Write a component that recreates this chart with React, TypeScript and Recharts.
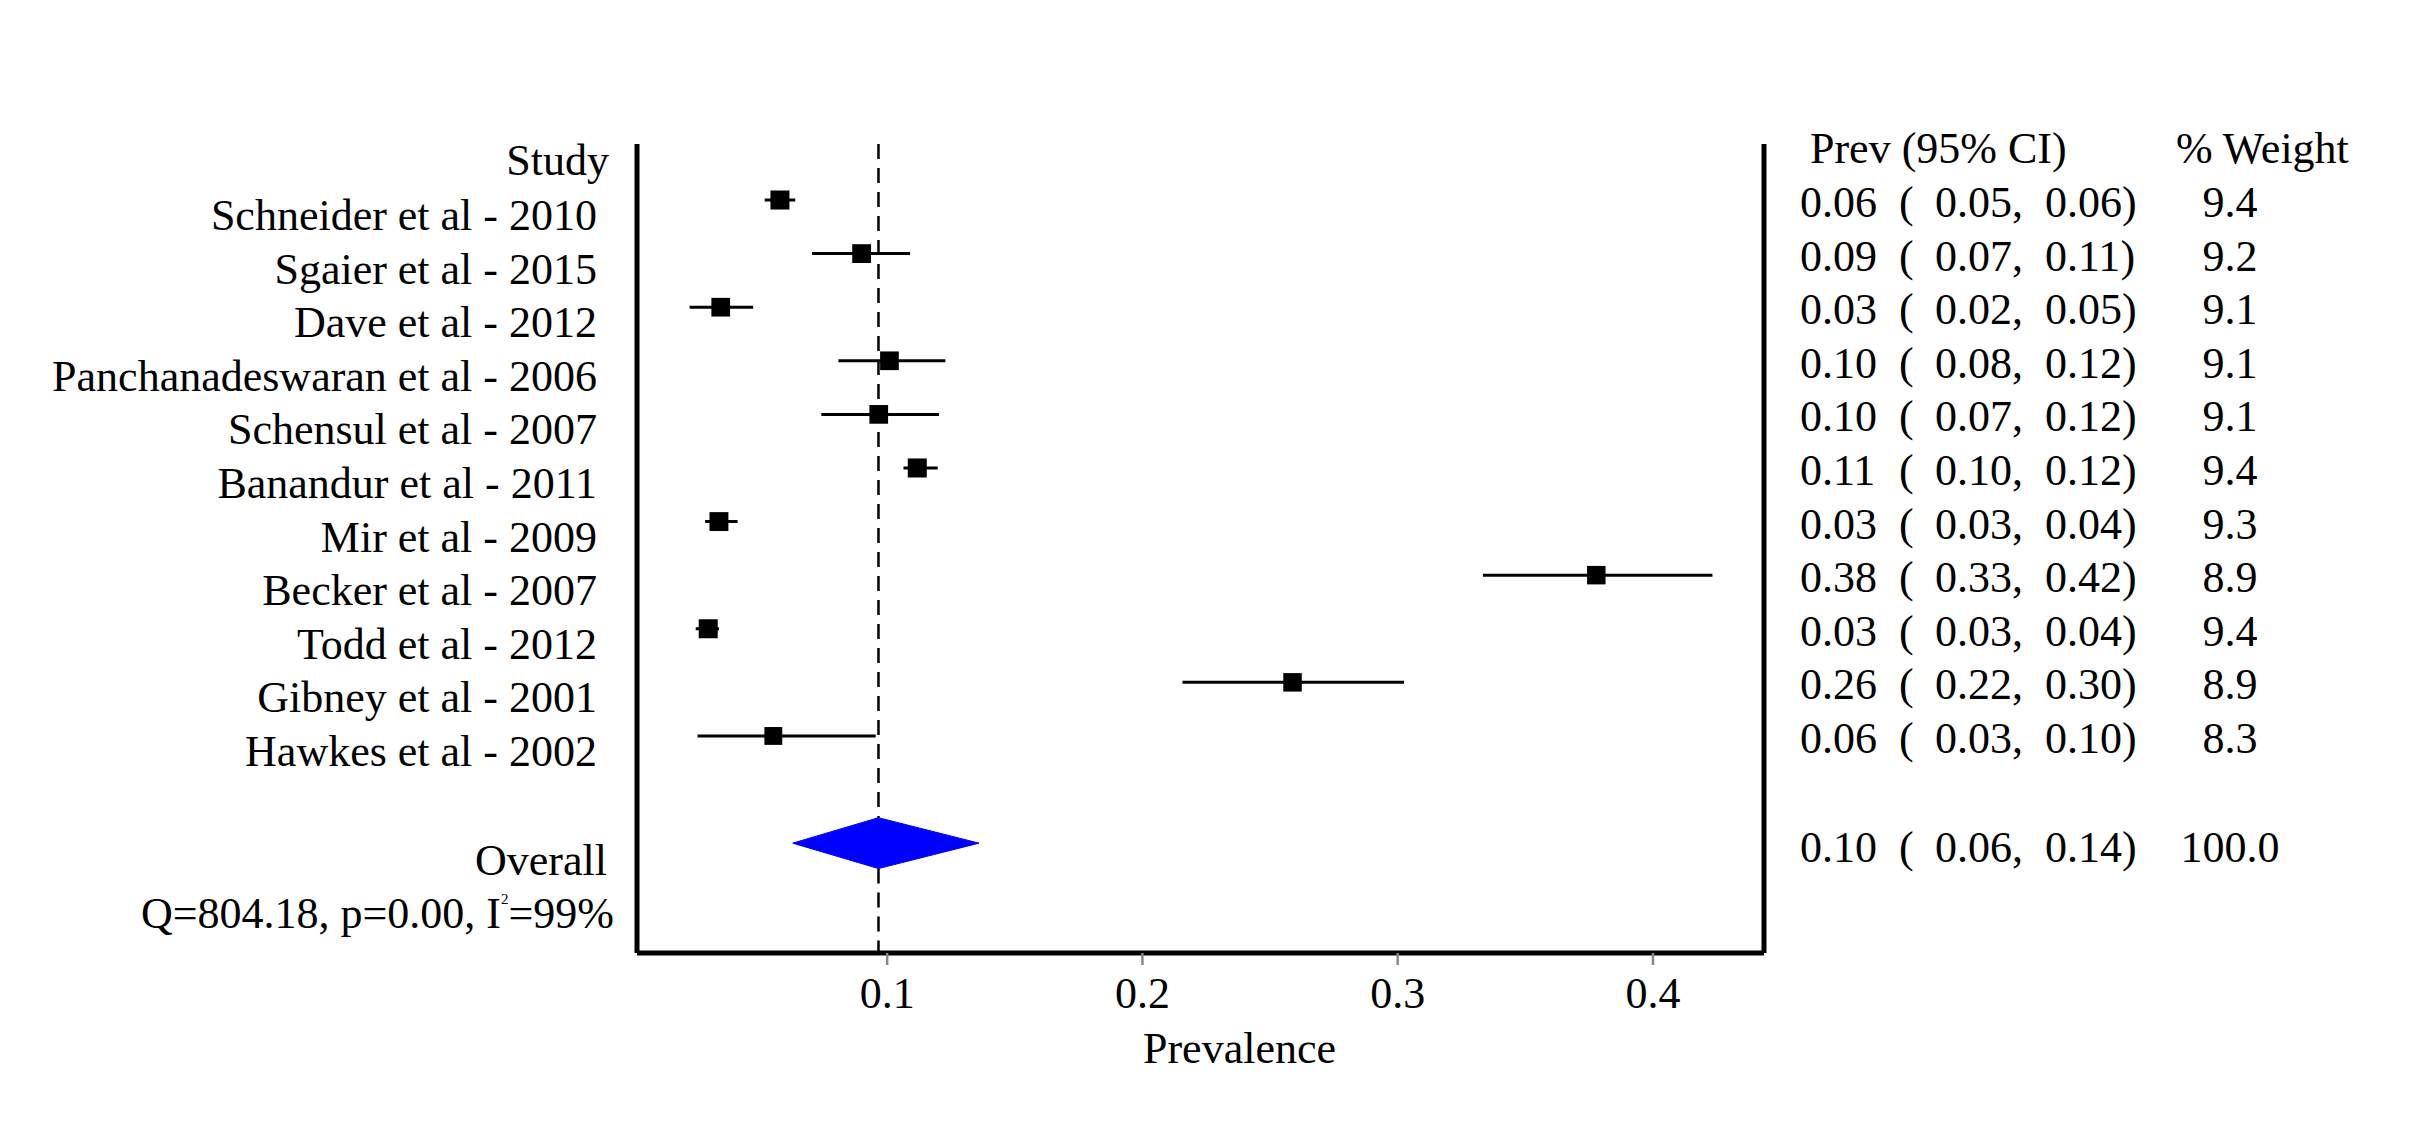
import React from "react";
import { ScatterChart, Scatter, XAxis, YAxis, ErrorBar } from "recharts";

const studies = [
  "Schneider et al - 2010",
  "Sgaier et al - 2015",
  "Dave et al - 2012",
  "Panchanadeswaran et al - 2006",
  "Schensul et al - 2007",
  "Banandur et al - 2011",
  "Mir et al - 2009",
  "Becker et al - 2007",
  "Todd et al - 2012",
  "Gibney et al - 2001",
  "Hawkes et al - 2002",
];
const prevalence = [0.058, 0.09, 0.0348, 0.1009, 0.0967, 0.1118, 0.0341, 0.3778, 0.0299, 0.2588, 0.0554];
const ciLow = [0.052, 0.0706, 0.0226, 0.0809, 0.0742, 0.1064, 0.0287, 0.3334, 0.025, 0.2157, 0.0257];
const ciHigh = [0.064, 0.109, 0.0475, 0.1228, 0.1203, 0.1198, 0.0414, 0.4233, 0.0341, 0.3025, 0.0955];
const weights = [9.4, 9.2, 9.1, 9.1, 9.1, 9.4, 9.3, 8.9, 9.4, 8.9, 8.3];

const prevText = ["0.06", "0.09", "0.03", "0.10", "0.10", "0.11", "0.03", "0.38", "0.03", "0.26", "0.06"];
const lowText = ["0.05", "0.07", "0.02", "0.08", "0.07", "0.10", "0.03", "0.33", "0.03", "0.22", "0.03"];
const highText = ["0.06", "0.11", "0.05", "0.12", "0.12", "0.12", "0.04", "0.42", "0.04", "0.30", "0.10"];
const weightText = ["9.4", "9.2", "9.1", "9.1", "9.1", "9.4", "9.3", "8.9", "9.4", "8.9", "8.3"];

const overallPrev = 0.0966;
const overallLow = 0.063;
const overallHigh = 0.136;
const overallText = ["0.10", "0.06", "0.14", "100.0"];

const xTicks = [0.1, 0.2, 0.3, 0.4];
const leftRows = [-1, 0, 1, 2, 3, 4, 5, 6, 7, 8, 9, 10, 12, 13];
const rightRows = [-1, 0, 1, 2, 3, 4, 5, 6, 7, 8, 9, 10, 12];

const FONT = "'Liberation Serif', 'Times New Roman', serif";
const FS = 44;
const Y_DOMAIN: [number, number] = [-1.045, 14.05];
const OVERALL_ROW = 12;
const DIAMOND_TOP = 11.525;
const DIAMOND_BOTTOM = 12.475;

const rows = studies.map((name, i) => ({
  row: i,
  prev: prevalence[i],
  err: [prevalence[i] - ciLow[i], ciHigh[i] - prevalence[i]],
  weight: weights[i],
}));
const tableRows = rightRows.map((r) => ({ row: r, prev: 0.2 }));

// pooled-estimate line, in two pieces so the diamond interrupts it
const dashAbove = [
  { prev: overallPrev, row: Y_DOMAIN[0] },
  { prev: overallPrev, row: DIAMOND_TOP },
];
const dashBelow = [
  { prev: overallPrev, row: DIAMOND_BOTTOM },
  { prev: overallPrev, row: Y_DOMAIN[1] },
];
const dashStyle = { stroke: "#000", strokeWidth: 2.5, strokeDasharray: "15 9" };

// diamond corners for the pooled estimate
const diamond = [
  { prev: overallLow, row: OVERALL_ROW },
  { prev: overallPrev, row: DIAMOND_TOP },
  { prev: overallHigh, row: OVERALL_ROW },
  { prev: overallPrev, row: DIAMOND_BOTTOM },
  { prev: overallLow, row: OVERALL_ROW },
];

const Square = (props: any) => {
  const { cx, cy, payload } = props;
  const s = 19 * Math.sqrt(payload.weight / 9.4);
  return <rect x={cx - s / 2} y={cy - s / 2} width={s} height={s} fill="#000" />;
};

const txt = { fontFamily: FONT, fontSize: FS, fill: "#000" };

const LeftTick = (props: any) => {
  const { y, payload } = props;
  const v = payload.value;
  if (v === -1)
    return (
      <text x={609} y={y + 29} textAnchor="end" {...txt}>
        Study
      </text>
    );
  if (v === 12)
    return (
      <text x={607} y={y + 32} textAnchor="end" {...txt}>
        Overall
      </text>
    );
  if (v === 13)
    return (
      <text x={614} y={y + 31} textAnchor="end" {...txt}>
        Q=804.18, p=0.00, I
        <tspan dy={-24} fontSize={15}>
          2
        </tspan>
        <tspan dy={24}>=99%</tspan>
      </text>
    );
  return (
    <text x={597} y={y + 30} textAnchor="end" {...txt}>
      {studies[v]}
    </text>
  );
};

const RightTick = (props: any) => {
  const { y, payload } = props;
  const v = payload.value;
  if (v === -1)
    return (
      <g>
        <text x={1810} y={y + 17} {...txt}>
          Prev (95% CI)
        </text>
        <text x={2176} y={y + 17} {...txt}>
          % Weight
        </text>
      </g>
    );
  const vals = v === 12 ? overallText : [prevText[v], lowText[v], highText[v], weightText[v]];
  const by = y + (v === 12 ? 19 : 17);
  return (
    <g>
      <text x={1800} y={by} {...txt}>
        {vals[0]}
      </text>
      <text x={1899} y={by} {...txt}>
        (
      </text>
      <text x={1935} y={by} {...txt}>
        {vals[1]},
      </text>
      <text x={2045} y={by} {...txt}>
        {vals[2]})
      </text>
      <text x={2230} y={by} textAnchor="middle" {...txt}>
        {vals[3]}
      </text>
    </g>
  );
};

const XTick = (props: any) => {
  const { x, payload } = props;
  return (
    <text x={x} y={1008} textAnchor="middle" {...txt}>
      {payload.value}
    </text>
  );
};

const XLabel = (props: any) => {
  const vb = props.viewBox || { x: 637, y: 953, width: 1127 };
  return (
    <text x={vb.x + vb.width / 2 + 39} y={vb.y + 110} textAnchor="middle" {...txt}>
      Prevalence
    </text>
  );
};

const NoShape = () => <g />;

export default function App() {
  return (
    <div style={{ position: "absolute", left: 0, top: 0, width: 2430, height: 1140, background: "#fff" }}>
      <ScatterChart width={2430} height={1140} margin={{ top: 144, right: 606, bottom: 0, left: 577 }}>
        <XAxis
          type="number"
          dataKey="prev"
          domain={[0.002, 0.4435]}
          allowDataOverflow
          ticks={xTicks}
          interval={0}
          height={187}
          axisLine={{ stroke: "#000", strokeWidth: 5 }}
          tickLine={{ stroke: "#888", strokeWidth: 2.5 }}
          tickSize={12}
          tick={<XTick />}
          label={<XLabel />}
        />
        <YAxis
          yAxisId="left"
          type="number"
          dataKey="row"
          domain={Y_DOMAIN}
          allowDataOverflow
          reversed
          ticks={leftRows}
          interval={0}
          width={60}
          axisLine={{ stroke: "#000", strokeWidth: 5 }}
          tickLine={false}
          tick={<LeftTick />}
        />
        <YAxis
          yAxisId="right"
          orientation="right"
          type="number"
          dataKey="row"
          domain={Y_DOMAIN}
          allowDataOverflow
          reversed
          ticks={rightRows}
          interval={0}
          width={60}
          axisLine={{ stroke: "#000", strokeWidth: 5 }}
          tickLine={false}
          tick={<RightTick />}
        />
        <Scatter yAxisId="left" data={dashAbove} line={dashStyle} shape={<NoShape />} isAnimationActive={false} />
        <Scatter yAxisId="left" data={dashBelow} line={dashStyle} shape={<NoShape />} isAnimationActive={false} />
        <Scatter
          yAxisId="left"
          data={diamond}
          line={{ stroke: "#0000ff", strokeWidth: 1, fill: "#0000ff" }}
          shape={<NoShape />}
          isAnimationActive={false}
        />
        <Scatter yAxisId="right" data={tableRows} shape={<NoShape />} isAnimationActive={false} />
        <Scatter yAxisId="left" data={rows} shape={<Square />} isAnimationActive={false}>
          <ErrorBar dataKey="err" direction="x" width={0} stroke="#000" strokeWidth={3} />
        </Scatter>
      </ScatterChart>
    </div>
  );
}
